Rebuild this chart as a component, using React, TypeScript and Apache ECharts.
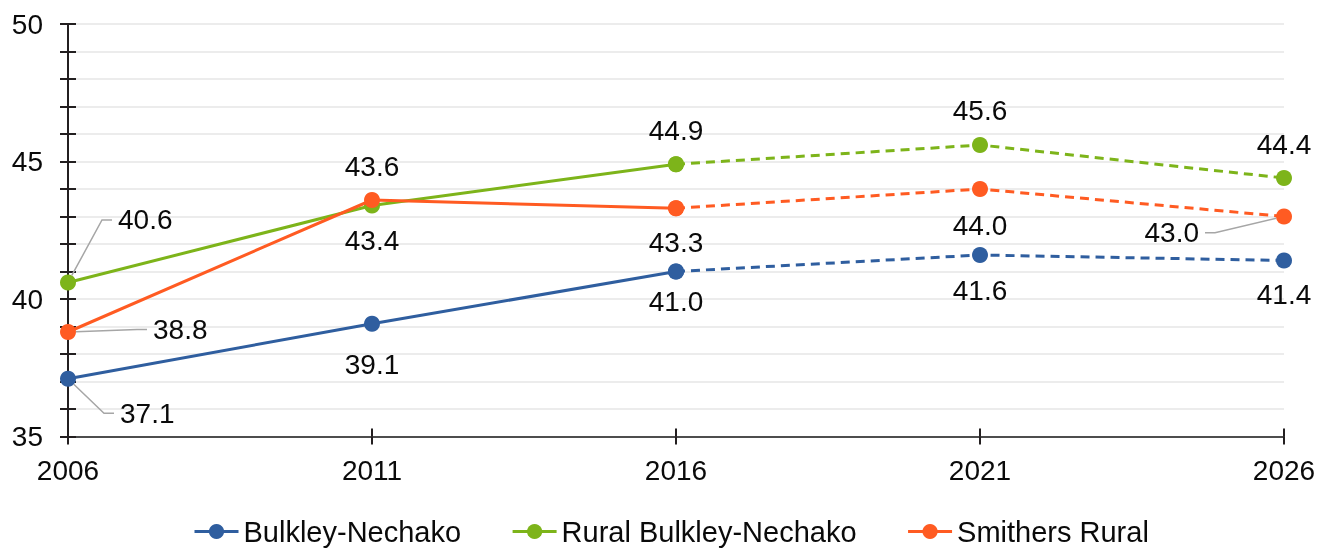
import React, { useEffect, useRef } from "react";
import * as echarts from "echarts";

const years = ["2006", "2011", "2016", "2021", "2026"];
const seriesNames = ["Bulkley-Nechako", "Rural Bulkley-Nechako", "Smithers Rural"];
const bulkleyNechako = [37.1, 39.1, 41.0, 41.6, 41.4];
const ruralBulkleyNechako = [40.6, 43.4, 44.9, 45.6, 44.4];
const smithersRural = [38.8, 43.6, 43.3, 44.0, 43.0];
const colors = ["#2F5E9F", "#7DB41A", "#FF5B22"];
// index of the last actual (solid) point; projections after it are dashed
const lastActualIndex = 2;

// label placement: [dx, dy, leader side] (leader: '' none, 'l' label right of point, 'r' label left of point)
const labelPlacement: [number, number, string][][] = [
  [[46, 20.5, "l"], [0, 41, ""], [0, 30, ""], [0, 35, ""], [0, 34, ""]],
  [[44, -76.6, "l"], [0, 35, ""], [0, -34, ""], [0, -35, ""], [0, -34, ""]],
  [[79, -16.4, "l"], [0, -34, ""], [0, 34, ""], [0, 36, ""], [-79, 2.2, "r"]],
];

const FONT = "'Liberation Sans', Arial, sans-serif";
const TEXT = "#0a0a0a";

export default function App() {
  const ref = useRef<HTMLDivElement>(null);
  useEffect(() => {
    if (!ref.current) return;
    const chart = echarts.init(ref.current, undefined, { renderer: "svg" });
    const values = [bulkleyNechako, ruralBulkleyNechako, smithersRural];

    const makeItem = (g: number, i: number, v: number, showLabel: boolean) => {
      const [dx, dy, leader] = labelPlacement[g][i];
      const label: any = {
        show: showLabel,
        position: "inside",
        offset: [dx, dy],
        color: TEXT,
        fontSize: 28,
        fontFamily: FONT,
        textBorderWidth: 0,
        formatter: (p: any) => Number(p.value).toFixed(1),
      };
      if (leader) {
        label.align = leader === "l" ? "left" : "right";
        label.verticalAlign = "top";
        label.padding = [0, 6];
        label.lineHeight = 28;
      }
      return {
        value: v,
        label,
        labelLine: {
          show: showLabel && !!leader,
          length2: 10,
          showAbove: true,
          lineStyle: { color: "#a6a6a6", width: 1.5 },
        },
      };
    };

    const series: any[] = [];
    values.forEach((vals, g) => {
      const solid = vals.map((v, i) => (i <= lastActualIndex ? makeItem(g, i, v, true) : "-"));
      const dashed = vals.map((v, i) => (i >= lastActualIndex ? makeItem(g, i, v, i > lastActualIndex) : "-"));
      const base = {
        type: "line",
        name: seriesNames[g],
        symbol: "circle",
        symbolSize: 16,
        color: colors[g],
        itemStyle: { color: colors[g], borderWidth: 0 },
        z: 2 + g,
        connectNulls: false,
      };
      series.push({ ...base, data: solid, lineStyle: { width: 3, color: colors[g], type: "solid" } });
      series.push({ ...base, data: dashed, lineStyle: { width: 3, color: colors[g], type: [9, 6] } });
    });

    const yCommon = {
      type: "value",
      min: 35,
      max: 50,
      interval: 1,
      position: "left",
      axisLine: { show: true, onZero: false, lineStyle: { color: "#231f20", width: 2 } },
    };
    const xCommon = {
      type: "category",
      data: years,
      boundaryGap: false,
      position: "bottom",
      axisLine: { show: true, onZero: false, lineStyle: { color: "#4d4d4d", width: 2 } },
    };

    chart.setOption({
      animation: false,
      grid: { left: 68, right: 44, top: 24, bottom: 111.5, containLabel: false },
      legend: {
        data: seriesNames,
        left: 188,
        top: 512,
        itemWidth: 44,
        itemHeight: 19,
        itemGap: 50,
        lineStyle: { width: 3 },
        textStyle: { fontSize: 29, color: TEXT, fontFamily: FONT },
      },
      xAxis: [
        {
          ...xCommon,
          axisTick: { show: true, length: 8, lineStyle: { color: "#231f20", width: 2 } },
          axisLabel: { fontSize: 28, color: TEXT, fontFamily: FONT, margin: 20 },
          splitLine: { show: false },
        },
        {
          ...xCommon,
          axisTick: { show: true, inside: true, length: 8, lineStyle: { color: "#231f20", width: 2 } },
          axisLabel: { show: false },
          splitLine: { show: false },
        },
      ],
      yAxis: [
        {
          ...yCommon,
          axisTick: { show: true, length: 8, lineStyle: { color: "#231f20", width: 2 } },
          axisLabel: {
            fontSize: 28,
            color: TEXT,
            fontFamily: FONT,
            margin: 25,
            formatter: (v: number) => (v % 5 === 0 ? String(v) : ""),
          },
          splitLine: { show: true, lineStyle: { color: "#ececec", width: 2 } },
        },
        {
          ...yCommon,
          axisTick: { show: true, inside: true, length: 8, lineStyle: { color: "#231f20", width: 2 } },
          axisLabel: { show: false },
          splitLine: { show: false },
        },
      ],
      series,
    });
    return () => chart.dispose();
  }, []);
  return (
    <div
      ref={ref}
      style={{ position: "fixed", left: 0, top: 0, width: 1328, height: 548 }}
    />
  );
}
